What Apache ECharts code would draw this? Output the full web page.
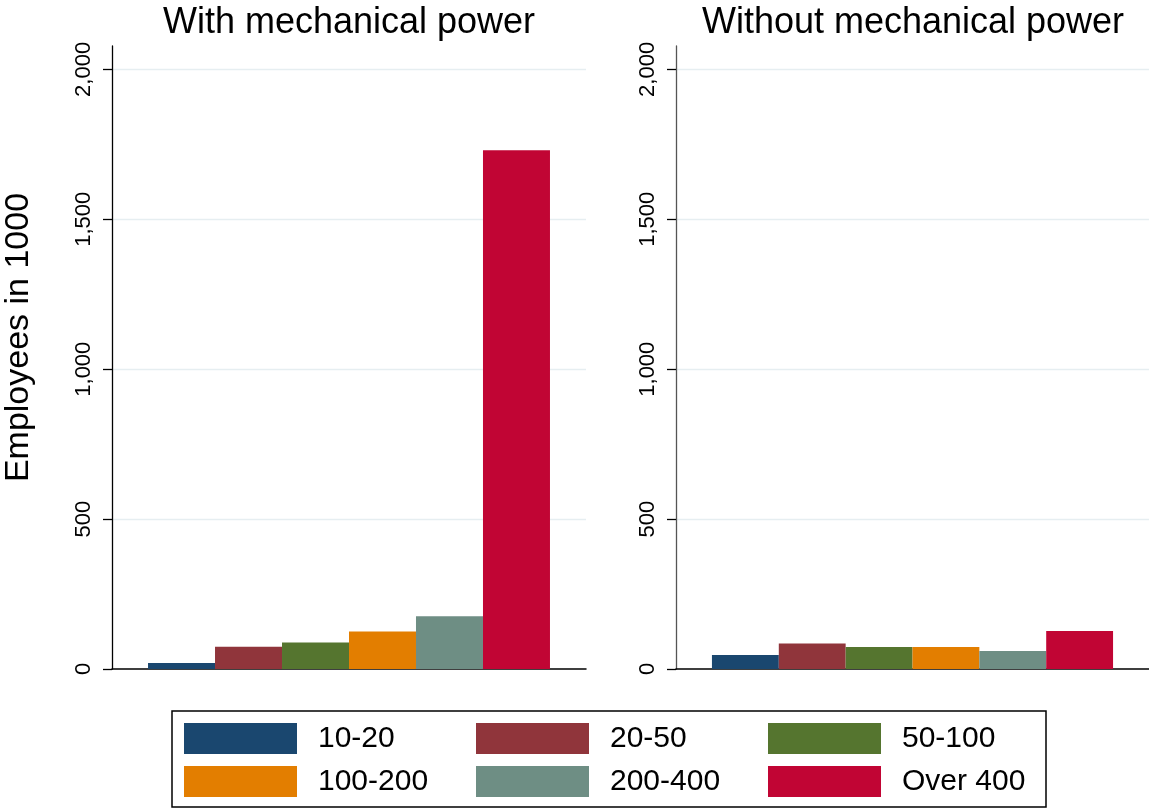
<!DOCTYPE html>
<html>
<head>
<meta charset="utf-8">
<script src="https://cdn.jsdelivr.net/npm/echarts@6/dist/echarts.min.js"></script>
<style>html,body{margin:0;padding:0;background:#fff}#c{width:1149px;height:810px}</style>
</head>
<body>
<div id="c"></div>
<script>
const sizeClasses = ['10-20', '20-50', '50-100', '100-200', '200-400', 'Over 400'];
const withPower = [20, 74, 88, 125, 176, 1730];
const withoutPower = [47, 85, 73, 73, 60, 127];
const panelTitles = ['With mechanical power', 'Without mechanical power'];
const yTicks = [0, 500, 1000, 1500, 2000];
const yTitle = 'Employees in 1000';
const colors = ['#1a476f', '#90353b', '#55752f', '#e37e00', '#6e8e84', '#c10534'];

const FONT = '"Liberation Sans", Arial, Helvetica, sans-serif';
const YMAX = 2078;

function yAxisFor(idx, showName, lineColor) {
  return {
    type: 'value', gridIndex: idx, min: 0, max: YMAX, interval: 500,
    name: showName ? yTitle : '', nameLocation: 'middle', nameRotate: 90, nameGap: 76,
    nameTextStyle: { fontFamily: FONT, fontSize: 34, color: '#000', padding: [0, 0, 0, 40] },
    axisLine: { show: true, lineStyle: { color: lineColor, width: 1.3 } },
    axisTick: { show: true, length: 9, lineStyle: { color: '#000', width: 1.3 }, customValues: yTicks },
    axisLabel: {
      rotate: 90, margin: 17, fontFamily: FONT, fontSize: 22, color: '#000',
      customValues: yTicks,
      formatter: v => v.toLocaleString('en-US')
    },
    splitLine: { show: true, showMinLine: false, lineStyle: { color: '#e6eef1', width: 1.3 } }
  };
}

const series = [];
[withPower, withoutPower].forEach((vals, gi) => {
  sizeClasses.forEach((name, i) => {
    series.push({
      type: 'bar', name: name, xAxisIndex: gi, yAxisIndex: gi,
      data: [vals[i]], barGap: '0%', barCategoryGap: '15.2%',
      itemStyle: { color: colors[i] }, silent: true
    });
  });
});

// legend laid out column by column (3 columns x 2 rows, row-major reading order)
const legendOrder = [0, 3, 1, 4, 2, 5].map(i => ({
  name: sizeClasses[i],
  textStyle: { width: (i % 3 === 2) ? 128 : 146 }
}));

const option = {
  animation: false,
  color: colors,
  title: [
    { text: panelTitles[0], left: 344, top: 0, textAlign: 'center',
      textStyle: { fontFamily: FONT, fontSize: 36, fontWeight: 'normal', color: '#000' } },
    { text: panelTitles[1], left: 908, top: 0, textAlign: 'center',
      textStyle: { fontFamily: FONT, fontSize: 36, fontWeight: 'normal', color: '#000' } }
  ],
  grid: [
    { left: 112, right: 563, top: 46, bottom: 141, containLabel: false },
    { left: 676, right: 0, top: 46, bottom: 141, containLabel: false }
  ],
  xAxis: [0, 1].map(gi => ({
    type: 'category', gridIndex: gi, data: [''],
    axisLine: { show: true, lineStyle: { color: '#000', width: 1.5 } },
    axisTick: { show: false }, axisLabel: { show: false }, splitLine: { show: false }
  })),
  yAxis: [yAxisFor(0, true, '#000'), yAxisFor(1, false, '#555')],
  legend: {
    data: legendOrder,
    left: 172, top: 711, height: 80,
    orient: 'vertical',
    itemWidth: 113, itemHeight: 31, itemGap: 12,
    icon: 'rect',
    padding: [12, 16, 10, 12],
    borderColor: '#000', borderWidth: 1.5,
    selectedMode: false,
    textStyle: {
      fontFamily: FONT, fontSize: 30, color: '#000', lineHeight: 31,
      padding: [0, 0, 0, 16], backgroundColor: 'rgba(255,255,255,0)'
    }
  },
  series: series
};

echarts.init(document.getElementById('c'), null, { renderer: 'canvas' }).setOption(option);
</script>
</body>
</html>
